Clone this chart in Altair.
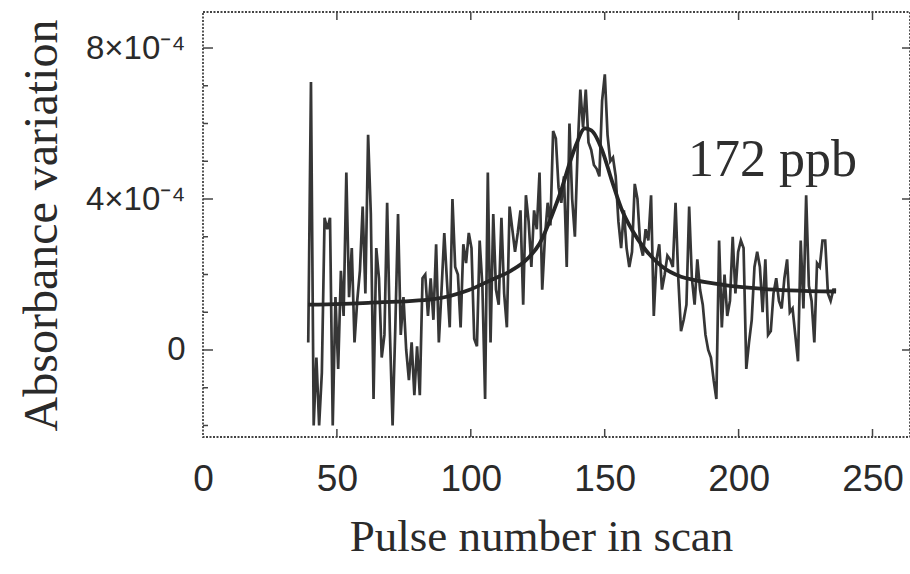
import altair as alt
import numpy as np
import pandas as pd

absorb_1e4 = [
    0.2, 7.1, -2.0, -0.2, -2.0, -0.6, 3.5, 3.2, 3.5, -2.0,
    1.4, -0.5, 2.1, 0.9, 4.7, 1.4, 2.7, 0.2, 1.3, 2.1,
    3.8, 1.5, 5.7, 3.6, -1.3, 2.7, 1.9, -0.2, 0.4, 3.9,
    0.5, -2.0, 0.6, 3.6, 0.4, 1.4, 0.0, -0.8, 0.2, -1.2,
    0.1, -1.2, 1.9, 2.0, 0.9, 1.9, 0.8, 2.8, 0.2, 1.6,
    3.1, 1.8, 0.6, 4.0, 2.2, 2.0, 0.6, 2.8, 2.3, 3.1,
    2.7, 0.3, 0.1, 2.9, 1.7, -1.3, 4.7, 0.2, 3.6, 1.6,
    1.2, 3.5, 1.5, 0.6, 3.8, 3.2, 2.6, 3.1, 3.7, 1.2,
    4.1, 3.4, 2.2, 3.7, 3.2, 4.7, 1.6, 3.0, 3.9, 3.3,
    5.8, 5.6, 4.3, 3.9, 4.6, 2.2, 6.0, 4.0, 3.0, 5.3,
    6.9, 5.9, 6.9, 5.5, 5.3, 4.9, 4.8, 4.6, 6.6, 7.3,
    5.7, 5.0, 5.1, 4.6, 3.4, 2.7, 3.7, 2.7, 2.2, 2.6,
    4.4, 4.0, 2.8, 2.5, 3.2, 2.9, 4.1, 0.9, 2.4, 2.8,
    1.6, 2.0, 2.5, 2.4, 2.2, 3.9, 1.9, 0.5, 0.8, 1.2,
    3.8, 1.9, 1.2, 2.4, 1.6, 1.2, 0.4, 0.0, -0.2, -0.8,
    -1.3, 2.9, 0.6, 2.0, 0.9, 1.3, 3.0, 1.5, 2.6, 2.9,
    2.7, -0.5, 0.2, 0.8, 2.2, 2.6, 2.2, 1.0, 2.4, 0.4,
    0.5, 1.5, 1.9, 1.3, 1.1, 1.9, 2.4, 1.0, 1.1, 0.4,
    -0.3, 2.9, 1.1, 4.1, 1.7, 1.3, 0.2, 2.3, 2.2, 2.9,
    2.9, 1.5, 1.3, 1.6, 1.6,
]
first_pulse = 39.3
last_pulse = 236.4

# Fitted curve, read at a few points (pulse, value in 1e-4)
fit_pulse = [39.3, 61.7, 86.1, 99.3, 107.4, 115.5, 120.6, 125.7, 130.2, 133.8,
             136.9, 139.4, 142.6, 145.0, 149.0, 152.6, 156.2, 160.2, 165.3, 171.4,
             178.5, 183.6, 194.8, 207.0, 219.1, 236.4]
fit_1e4 = [1.2, 1.25, 1.35, 1.59, 1.85, 2.12, 2.38, 2.82, 3.55, 4.24,
           4.95, 5.45, 5.87, 5.82, 5.3, 4.5, 3.75, 3.18, 2.65, 2.21,
           1.94, 1.85, 1.72, 1.63, 1.58, 1.55]

x_tick_values = [0, 50, 100, 150, 200, 250]
x_tick_marks = [50, 100, 150, 200, 250]
y_major = [0.0, 4e-4, 8e-4]
y_minor = [-2e-4, -1e-4, 1e-4, 2e-4, 3e-4, 5e-4, 6e-4, 7e-4]
label_text = "172 ppb"

W, H = 707, 425
X_DOMAIN = [0, 264]
Y_DOMAIN = [-2.305e-4, 8.954e-4]

data_df = pd.DataFrame({
    "pulse": np.linspace(first_pulse, last_pulse, len(absorb_1e4)),
    "a": np.array(absorb_1e4) * 1e-4,
})
fit_df = pd.DataFrame({"pulse": fit_pulse, "a": np.array(fit_1e4) * 1e-4})

xscale = alt.Scale(domain=X_DOMAIN, nice=False, zero=False)
yscale = alt.Scale(domain=Y_DOMAIN, nice=False, zero=False)

xaxis = alt.Axis(
    values=x_tick_values, title="Pulse number in scan", grid=False, domain=False,
    ticks=False, labelFont="Liberation Sans Narrow, Liberation Sans, Arial, sans-serif",
    labelFontSize=37, labelColor="#2a2a2a", labelPadding=24, labelFlush=False,
    titleFont="Liberation Serif", titleFontSize=45, titleFontWeight="normal",
    titleColor="#2a2a2a", titleX=338, titleY=113, titleBaseline="alphabetic",
    titleAlign="center",
)
yaxis = alt.Axis(
    values=y_major, title="Absorbance variation", grid=False, domain=False,
    ticks=False,
    labelExpr="datum.value > 0.0006 ? '8×10⁻⁴' : (datum.value > 0.0002 ? '4×10⁻⁴' : '0')",
    labelFont="Liberation Sans", labelFontSize=33, labelColor="#2a2a2a",
    labelPadding=18,
    titleFont="Liberation Serif", titleFontSize=48, titleFontWeight="normal",
    titleColor="#2a2a2a", titleX=-147, titleY=213, titleAngle=270,
    titleBaseline="alphabetic", titleAlign="center",
)

X = alt.X("pulse:Q", scale=xscale, axis=xaxis)
Y = alt.Y("a:Q", scale=yscale, axis=yaxis)

data_line = alt.Chart(data_df).mark_line(
    color="#363636", strokeWidth=2.7, clip=True
).encode(x=X, y=Y)

fit_line = alt.Chart(fit_df).mark_line(
    color="#262626", strokeWidth=3.8, interpolate="monotone"
).encode(x=X, y=Y)

ymaj_df = pd.DataFrame({"a": y_major})
ymin_df = pd.DataFrame({"a": y_minor})
xmaj_df = pd.DataFrame({"pulse": x_tick_marks})

tick_color = "#444444"
left_major = alt.Chart(ymaj_df).mark_rule(color=tick_color, strokeWidth=1.5).encode(
    y=Y, x=alt.value(0), x2=alt.value(10))
left_minor = alt.Chart(ymin_df).mark_rule(color=tick_color, strokeWidth=1.5).encode(
    y=Y, x=alt.value(0), x2=alt.value(5))
right_major = alt.Chart(ymaj_df).mark_rule(color=tick_color, strokeWidth=1.5).encode(
    y=Y, x=alt.value(W), x2=alt.value(W - 8))
bottom_ticks = alt.Chart(xmaj_df).mark_rule(color=tick_color, strokeWidth=1.5).encode(
    x=X, y=alt.value(H), y2=alt.value(H - 8))
top_ticks = alt.Chart(xmaj_df).mark_rule(color=tick_color, strokeWidth=1.5).encode(
    x=X, y=alt.value(0), y2=alt.value(8))

label = alt.Chart(pd.DataFrame({"t": [label_text]})).mark_text(
    font="Liberation Serif", fontSize=52, color="#2e2e2e", align="left",
    baseline="alphabetic",
).encode(text="t:N", x=alt.value(485), y=alt.value(164))

chart = alt.layer(
    data_line, fit_line, left_major, left_minor, right_major, bottom_ticks,
    top_ticks, label,
).properties(
    width=W, height=H,
    autosize=alt.AutoSizeParams(type="none"),
    padding={"left": 203, "top": 12, "right": 0, "bottom": 137},
    background="white",
).configure_view(
    stroke="#444444", strokeWidth=1.8, strokeDash=[2, 1.5],
)

chart.save("out.html", embed_options={"renderer": "svg", "actions": False})
